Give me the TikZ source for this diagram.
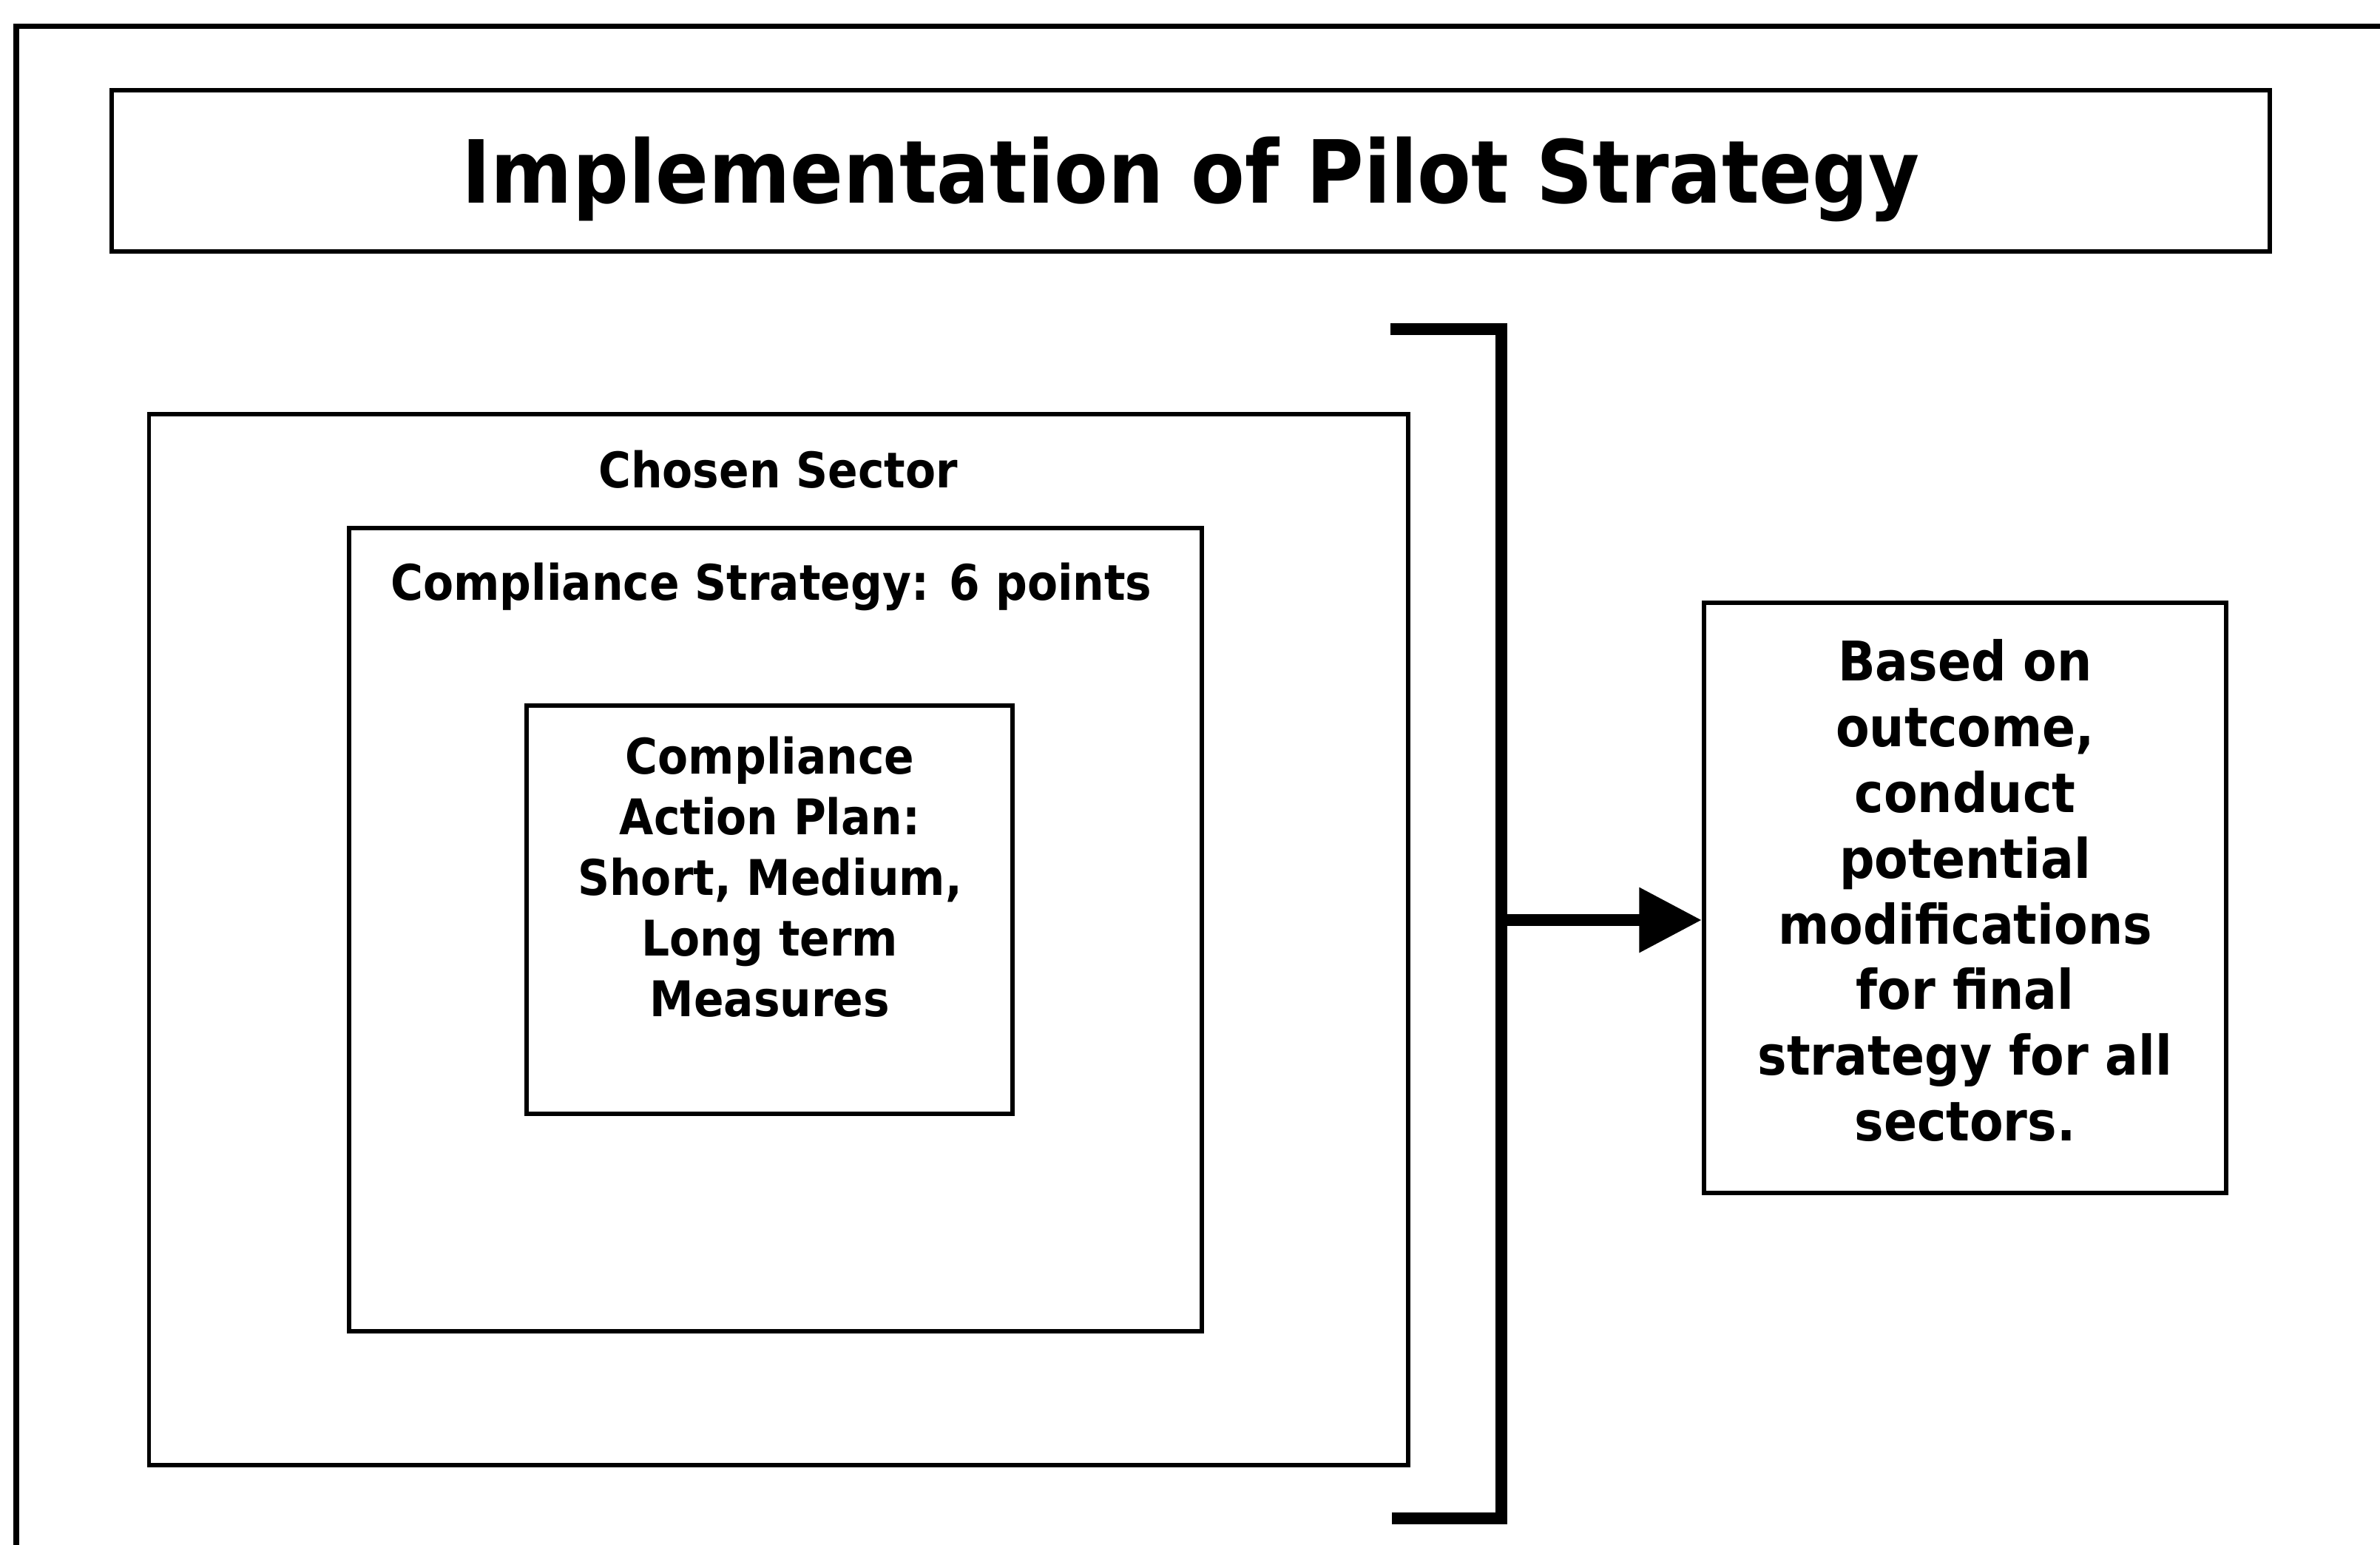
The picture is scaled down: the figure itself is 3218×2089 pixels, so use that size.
\documentclass[tikz,border=0pt]{standalone}
\usepackage{fontspec}
\setmainfont{DejaVu Sans}[FakeStretch=0.9]
\usetikzlibrary{arrows.meta}

\begin{document}
\begin{tikzpicture}[x=0.01cm,y=-0.01cm,
  box/.style={draw,line width=1.7pt,inner sep=0pt},
  txt/.style={font=\bfseries\fontsize{18.9}{23.3}\selectfont,align=center,inner sep=0pt},
  bigtxt/.style={font=\bfseries\fontsize{21}{25.3}\selectfont,align=center,inner sep=0pt}]
\useasboundingbox (0,0) rectangle (3218,2089);

\draw[line width=2pt] (3218,36) -- (22,36) -- (22,2089);

\node[box,minimum width=29.17cm,minimum height=2.18cm] (title) at (1610,231) {};
\node[font=\bfseries\fontsize{33.5}{40}\selectfont,inner sep=0pt,anchor=base] (titletext) at (1610,275) {Implementation of Pilot Strategy};

\node[box,minimum width=17.01cm,minimum height=14.21cm] (sector) at (1052.5,1270.5) {};
\node[txt,anchor=base] (sectorlabel) at (1052,660) {Chosen Sector};

\node[box,minimum width=11.53cm,minimum height=10.86cm] (strategy) at (1048.5,1257) {};
\node[txt,anchor=base] (strategylabel) at (1043,812) {Compliance Strategy: 6 points};

\node[box,minimum width=6.57cm,minimum height=5.52cm] (plan) at (1040.5,1230) {};
\node[txt] (plantext) at (1041,1186) {Compliance\\Action Plan:\\Short, Medium,\\Long term\\Measures};

\node[box,minimum width=7.06cm,minimum height=7.98cm] (outcome) at (2657,1214) {};
\node[bigtxt] (outcometext) at (2657,1204) {Based on\\outcome,\\conduct\\potential\\modifications\\for final\\strategy for all\\sectors.};

% bracket
\coordinate (btop) at (2030,445);
\coordinate (bbot) at (2030,2053);
\coordinate (bmid) at (2030,1244);
\draw[line width=4.3pt] (1880,445) -- (btop) -- (bbot) -- (1882,2053);
\draw[line width=4.3pt,-{Triangle[length=24pt,width=24pt]}] (bmid) -- (bmid -| outcome.west);

\end{tikzpicture}
\end{document}
